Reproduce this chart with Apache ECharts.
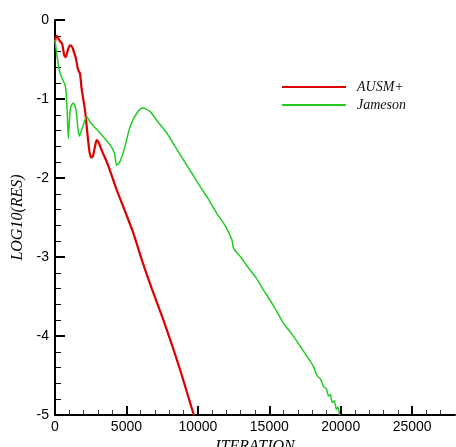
<!DOCTYPE html>
<html>
<head>
<meta charset="utf-8">
<script src="https://cdn.jsdelivr.net/npm/echarts@6/dist/echarts.min.js"></script>
<style>
html,body{margin:0;padding:0;background:#fff;}
#resChart{width:456px;height:447px;}
</style>
</head>
<body>
<div id="resChart"></div>
<script>
var seriesNames = ['AUSM+', 'Jameson'];
var xTicks = [0, 5000, 10000, 15000, 20000, 25000];
var xMinorTicks = [1000, 2000, 3000, 4000, 6000, 7000, 8000, 9000, 11000, 12000, 13000, 14000, 16000, 17000, 18000, 19000, 21000, 22000, 23000, 24000, 26000, 27000];
var yTicks = [0, -1, -2, -3, -4, -5];

// AUSM+ residual history [iteration, log10(res)]
var ausmIter = [0, 100, 200, 350, 500, 650, 750, 900, 1050, 1200, 1350, 1470, 1600, 1750, 1850, 1985, 2100, 2250, 2400, 2520, 2640, 2800, 2920, 3050, 3270, 3700, 4320, 4900, 5490, 6100, 6775, 7590, 8200, 8760, 9300, 9720];
var ausmRes = [-0.28, -0.2, -0.22, -0.27, -0.3, -0.45, -0.47, -0.38, -0.32, -0.34, -0.42, -0.49, -0.62, -0.68, -0.85, -1.01, -1.14, -1.4, -1.65, -1.74, -1.73, -1.6, -1.52, -1.55, -1.65, -1.83, -2.15, -2.42, -2.7, -3.05, -3.4, -3.8, -4.12, -4.43, -4.75, -5.0];

// Jameson residual history
var jamIter = [0, 100, 300, 500, 700, 770, 850, 935, 1000, 1100, 1285, 1470, 1600, 1700, 1850, 1985, 2220, 2450, 3150, 3850, 4150, 4320, 4555, 4900, 5255, 5725, 6145, 6660, 7120, 7825, 8400, 8990, 9580, 10160, 10750, 11330, 11900, 12380, 12500, 13000, 13550, 14100, 14600, 15300, 16000, 16600, 17170, 17500, 17800, 18100, 18340, 18600, 18800, 19000, 19150, 19270, 19400, 19550, 19700, 19800, 19925];
var jamRes = [-0.25, -0.4, -0.63, -0.74, -0.82, -0.9, -1.15, -1.5, -1.3, -1.1, -1.05, -1.14, -1.36, -1.47, -1.4, -1.33, -1.22, -1.29, -1.43, -1.58, -1.68, -1.84, -1.79, -1.6, -1.35, -1.18, -1.115, -1.16, -1.27, -1.43, -1.6, -1.77, -1.94, -2.11, -2.27, -2.45, -2.6, -2.78, -2.89, -3.0, -3.14, -3.27, -3.42, -3.62, -3.84, -3.98, -4.13, -4.22, -4.3, -4.39, -4.5, -4.55, -4.64, -4.67, -4.76, -4.74, -4.84, -4.82, -4.93, -4.9, -5.0];

var lineColors = ['#dd0000', '#22cc22'];

function pairUp(xs, ys){
	var out = [];
	for (var i = 0; i < xs.length; i++) {
		out.push([xs[i], ys[i]]);
	}
	return out;
}

var resChart = echarts.init(document.getElementById('resChart'));

var axisBlack = {color: '#000', width: 2};
var tickFont = {fontFamily: 'Liberation Sans, Arial, sans-serif', fontSize: 14, color: '#000'};
var nameFont = {fontFamily: 'Liberation Serif, Times New Roman, serif', fontStyle: 'italic', fontSize: 16, color: '#000'};

var option = {
	animation: false,
	backgroundColor: '#fff',
	grid: {left: 55, top: 20, right: 1, bottom: 32, outerBoundsMode: 'none', containLabel: false},
	legend: {
		orient: 'vertical',
		left: 277,
		top: 75,
		icon: 'rect',
		itemWidth: 64,
		itemHeight: 2,
		itemGap: 4,
		data: seriesNames,
		textStyle: {fontFamily: 'Liberation Serif, Times New Roman, serif', fontStyle: 'italic', fontSize: 14, lineHeight: 14, color: '#111', padding: [0, 0, 0, 6]}
	},
	xAxis: [
		{
			type: 'value',
			min: 0,
			max: 28000,
			interval: 1000,
			name: 'ITERATION',
			nameLocation: 'middle',
			nameGap: 16,
			nameTextStyle: nameFont,
			axisLine: {onZero: false, lineStyle: axisBlack},
			axisTick: {inside: true, length: 9, lineStyle: {color: '#000', width: 2}, customValues: xTicks},
			axisLabel: Object.assign({margin: 5, customValues: xTicks, formatter: function(v){ return String(v); }}, tickFont),
			splitLine: {show: false}
		},
		{
			// minor ticks only
			type: 'value',
			position: 'bottom',
			min: 0,
			max: 28000,
			interval: 1000,
			axisLine: {show: false, onZero: false},
			axisTick: {inside: true, length: 5, lineStyle: {color: '#333', width: 1}, customValues: xMinorTicks},
			axisLabel: {show: false},
			splitLine: {show: false}
		}
	],
	yAxis: {
		type: 'value',
		min: -5,
		max: 0,
		interval: 1,
		name: 'LOG10(RES)',
		nameLocation: 'middle',
		nameGap: 29,
		nameTextStyle: nameFont,
		axisLine: {onZero: false, lineStyle: axisBlack},
		axisTick: {inside: true, length: 10, lineStyle: {color: '#000', width: 2}, customValues: yTicks},
		minorTick: {show: true, splitNumber: 5, length: 6, lineStyle: {color: '#000', width: 1}},
		axisLabel: Object.assign({margin: 6, customValues: yTicks}, tickFont),
		splitLine: {show: false}
	},
	series: [
		{
			name: seriesNames[0],
			type: 'line',
			data: pairUp(ausmIter, ausmRes),
			showSymbol: false,
			smooth: 0.25,
			color: lineColors[0],
			lineStyle: {color: lineColors[0], width: 2.2}
		},
		{
			name: seriesNames[1],
			type: 'line',
			data: pairUp(jamIter, jamRes),
			showSymbol: false,
			smooth: 0.25,
			color: lineColors[1],
			lineStyle: {color: lineColors[1], width: 1.5}
		}
	]
};
resChart.setOption(option);
</script>
</body>
</html>
